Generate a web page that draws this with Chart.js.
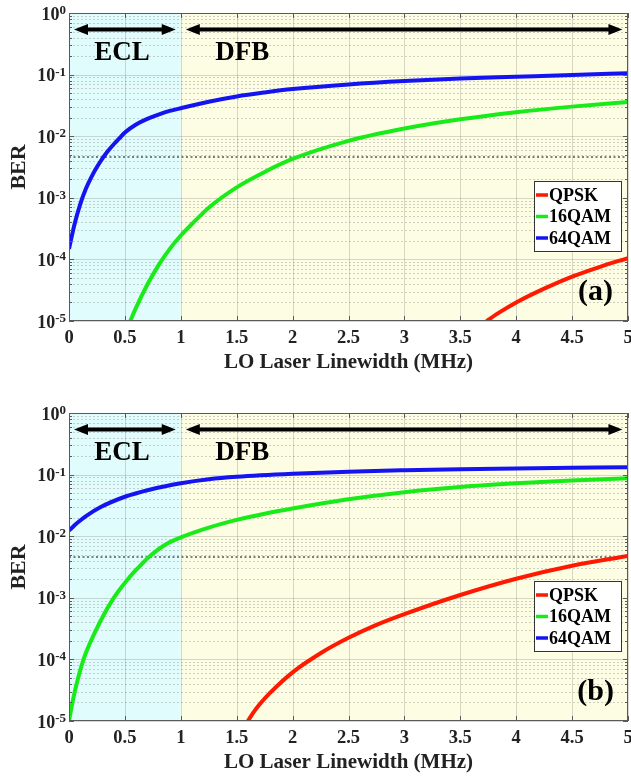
<!DOCTYPE html>
<html>
<head>
<meta charset="utf-8">
<script src="https://cdn.jsdelivr.net/npm/chart.js@4.4.0/dist/chart.umd.min.js"></script>
<style>
body{margin:0;background:#fff;width:631px;height:779px;overflow:hidden;position:relative}
canvas{position:absolute;left:0}
#chartA{top:0}
#chartB{top:400px}
</style>
</head>
<body>
<canvas id="chartA" width="631" height="400"></canvas>
<canvas id="chartB" width="631" height="379"></canvas>
<script>
// x axis: LO laser linewidth (MHz)
const xTicks = [0, 0.5, 1, 1.5, 2, 2.5, 3, 3.5, 4, 4.5, 5];
const fecLimit = 4.6e-3;
const seriesNames = ['QPSK', '16QAM', '64QAM'];

// panel (a)
const qpskX_a = [3.735, 3.85, 4.0, 4.25, 4.5, 4.75, 5.0];
const qpskY_a = [1e-5, 1.38e-5, 2.0e-5, 3.35e-5, 5.25e-5, 7.59e-5, 1.05e-4];
const qam16X_a = [0.548, 0.6, 0.7, 0.8, 0.9, 1.0, 1.1, 1.25, 1.5, 1.75, 2.0, 2.5, 3.0, 3.5, 4.0, 4.5, 5.0];
const qam16Y_a = [1e-5, 1.65e-5, 3.87e-5, 8.0e-5, 1.47e-4, 2.44e-4, 3.76e-4, 6.92e-4, 1.48e-3, 2.63e-3, 4.27e-3, 8.41e-3, 1.33e-2, 1.88e-2, 2.45e-2, 3.02e-2, 3.59e-2];
const qam64X_a = [0, 0.05, 0.1, 0.15, 0.2, 0.25, 0.3, 0.35, 0.4, 0.45, 0.5, 0.6, 0.7, 0.8, 0.9, 1.0, 1.25, 1.5, 1.75, 2.0, 2.5, 3.0, 3.5, 4.0, 4.5, 5.0];
const qam64Y_a = [1.48e-4, 3.76e-4, 7.85e-4, 1.39e-3, 2.17e-3, 3.16e-3, 4.37e-3, 5.78e-3, 7.41e-3, 9.23e-3, 1.15e-2, 1.55e-2, 1.91e-2, 2.24e-2, 2.57e-2, 2.85e-2, 3.63e-2, 4.42e-2, 5.13e-2, 5.82e-2, 6.92e-2, 7.85e-2, 8.61e-2, 9.23e-2, 9.89e-2, 1.05e-1];

// panel (b)
const qpskX_b = [1.6, 1.65, 1.7, 1.8, 2.0, 2.25, 2.5, 2.75, 3.0, 3.5, 4.0, 4.5, 5.0];
const qpskY_b = [1e-5, 1.38e-5, 1.82e-5, 2.88e-5, 6.17e-5, 1.26e-4, 2.24e-4, 3.63e-4, 5.43e-4, 1.11e-3, 2.04e-3, 3.31e-3, 4.79e-3];
const qam16X_b = [0, 0.02, 0.056, 0.13, 0.235, 0.39, 0.53, 0.62, 0.72, 0.85, 1.0, 1.25, 1.5, 1.75, 2.0, 2.5, 3.0, 3.5, 4.0, 4.5, 5.0];
const qam16Y_b = [1e-5, 1.58e-5, 3.24e-5, 1e-4, 2.82e-4, 9.33e-4, 2.04e-3, 3.09e-3, 4.68e-3, 7.08e-3, 9.55e-3, 1.38e-2, 1.84e-2, 2.32e-2, 2.82e-2, 3.98e-2, 5.19e-2, 6.31e-2, 7.24e-2, 8.04e-2, 8.71e-2];
const qam64X_b = [0, 0.05, 0.1, 0.155, 0.28, 0.5, 0.72, 1.0, 1.25, 1.5, 2.0, 2.5, 3.0, 3.5, 4.0, 4.5, 5.0];
const qam64Y_b = [1.23e-2, 1.51e-2, 1.80e-2, 2.14e-2, 2.95e-2, 4.37e-2, 5.69e-2, 7.24e-2, 8.41e-2, 9.23e-2, 0.1035, 0.1117, 0.1175, 0.1222, 0.1259, 0.1288, 0.1318];

const colors = ['rgb(255,25,0)', 'rgb(25,235,25)', 'rgb(20,20,240)'];
const serif = "'Liberation Serif', 'Times New Roman', serif";

function pts(xs, ys){
    return xs.map((v, i) => ({x: v, y: ys[i]}));
}

function arrow(ctx, x1, x2, y){
    const hl = 14, hw = 5.5;
    ctx.beginPath();
    ctx.moveTo(x1 + hl - 2, y);
    ctx.lineTo(x2 - hl + 2, y);
    ctx.stroke();
    ctx.beginPath();
    ctx.moveTo(x1, y); ctx.lineTo(x1 + hl, y - hw); ctx.lineTo(x1 + hl, y + hw);
    ctx.closePath(); ctx.fill();
    ctx.beginPath();
    ctx.moveTo(x2, y); ctx.lineTo(x2 - hl, y - hw); ctx.lineTo(x2 - hl, y + hw);
    ctx.closePath(); ctx.fill();
}

const decor = {
    id: 'decor',
    beforeDatasetsDraw(chart){
        const {ctx, chartArea: a, scales: {x, y}} = chart;
        ctx.save();
        const x1 = x.getPixelForValue(1);
        ctx.fillStyle = '#e0fcfd';
        ctx.fillRect(a.left, a.top, x1 - a.left, a.height);
        ctx.fillStyle = '#fdfde4';
        ctx.fillRect(x1, a.top, a.right - x1, a.height);

        // minor horizontal grid (dotted)
        ctx.lineWidth = 1;
        ctx.setLineDash([2, 2]);
        ctx.strokeStyle = 'rgba(150,150,150,0.45)';
        for (let e = -5; e < 0; e++){
            for (let m = 2; m <= 9; m++){
                const py = Math.round(y.getPixelForValue(m * Math.pow(10, e))) + 0.5;
                ctx.beginPath(); ctx.moveTo(a.left, py); ctx.lineTo(a.right, py); ctx.stroke();
            }
        }
        // major grid
        ctx.setLineDash([]);
        ctx.strokeStyle = 'rgba(140,140,130,0.35)';
        for (let e = -5; e <= 0; e++){
            const py = Math.round(y.getPixelForValue(Math.pow(10, e))) + 0.5;
            ctx.beginPath(); ctx.moveTo(a.left, py); ctx.lineTo(a.right, py); ctx.stroke();
        }
        xTicks.forEach(v => {
            const px = Math.round(x.getPixelForValue(v)) + 0.5;
            ctx.beginPath(); ctx.moveTo(px, a.top); ctx.lineTo(px, a.bottom); ctx.stroke();
        });
        ctx.restore();
    },
    afterDatasetsDraw(chart, args, opts){
        const {ctx, chartArea: a, scales: {x, y}} = chart;
        ctx.save();
        // axis box and inner ticks
        ctx.strokeStyle = '#5a5a5a';
        ctx.lineWidth = 1;
        ctx.strokeRect(a.left + 0.5, a.top + 0.5, a.width - 1, a.height - 1);
        ctx.beginPath();
        xTicks.forEach(v => {
            const px = Math.round(x.getPixelForValue(v)) + 0.5;
            ctx.moveTo(px, a.bottom); ctx.lineTo(px, a.bottom - 5);
            ctx.moveTo(px, a.top); ctx.lineTo(px, a.top + 5);
        });
        for (let e = -5; e <= 0; e++){
            for (let m = 1; m <= 9; m++){
                const v = m * Math.pow(10, e);
                if (v > 1) break;
                const len = m === 1 ? 5 : 3;
                const py = Math.round(y.getPixelForValue(v)) + 0.5;
                ctx.moveTo(a.left, py); ctx.lineTo(a.left + len, py);
                ctx.moveTo(a.right, py); ctx.lineTo(a.right - len, py);
            }
        }
        ctx.stroke();

        // y tick labels 10^n
        ctx.fillStyle = '#222';
        ctx.textAlign = 'right';
        y.ticks.forEach(t => {
            const l = Math.log10(t.value);
            const e = Math.round(l);
            if (Math.abs(l - e) > 1e-6) return;
            const ty = y.getPixelForValue(t.value);
            const rx = a.left - 3;
            ctx.font = 'bold 13px ' + serif;
            ctx.textBaseline = 'alphabetic';
            const ex = String(e);
            const ew = ctx.measureText(ex).width;
            ctx.fillText(ex, rx, ty + 1);
            ctx.font = 'bold 18px ' + serif;
            ctx.textBaseline = 'middle';
            ctx.fillText('10', rx - ew, ty + 2);
        });

        // ECL / DFB arrows
        ctx.strokeStyle = '#000';
        ctx.fillStyle = '#000';
        ctx.lineWidth = 4;
        const ay = y.getPixelForValue(0.54);
        arrow(ctx, x.getPixelForValue(0.045), x.getPixelForValue(0.955), ay);
        arrow(ctx, x.getPixelForValue(1.045), x.getPixelForValue(4.95), ay);
        ctx.font = 'bold 27px ' + serif;
        ctx.textAlign = 'center';
        ctx.textBaseline = 'middle';
        ctx.fillText('ECL', x.getPixelForValue(0.474), y.getPixelForValue(0.22));
        ctx.fillText('DFB', x.getPixelForValue(1.55), y.getPixelForValue(0.22));
        ctx.font = 'bold 30px ' + serif;
        ctx.fillText(opts.tag, x.getPixelForValue(4.71), y.getPixelForValue(2.9e-5));

        // legend
        const lx = a.right - 94, ly = a.top + 168, lw = 87, lh = 70;
        ctx.fillStyle = '#fff';
        ctx.fillRect(lx, ly, lw, lh);
        ctx.strokeStyle = '#333';
        ctx.lineWidth = 1;
        ctx.strokeRect(lx + 0.5, ly + 0.5, lw, lh);
        ctx.font = 'bold 18px ' + serif;
        ctx.textAlign = 'left';
        chart.data.datasets.filter(d => !d.isLimit).forEach((d, i) => {
            const ry = ly + 14 + i * 21.5;
            ctx.strokeStyle = d.borderColor;
            ctx.lineWidth = 3.5;
            ctx.beginPath(); ctx.moveTo(lx + 2, ry); ctx.lineTo(lx + 14, ry); ctx.stroke();
            ctx.fillStyle = '#000';
            ctx.fillText(d.label, lx + 15, ry + 1);
        });
        ctx.restore();
    }
};

function CreateGraph(canva, qpsk, qam16, qam64, tag, axisH, titlePad){
    const ctx = document.getElementById(canva);
    const curves = [qpsk, qam16, qam64].map((s, i) => ({
        label: seriesNames[i],
        data: s,
        borderColor: colors[i],
        borderWidth: 4,
        pointRadius: 0,
        fill: false,
        cubicInterpolationMode: 'monotone'
    }));
    curves.push({
        label: 'FEC limit',
        isLimit: true,
        data: [{x: xTicks[0], y: fecLimit}, {x: xTicks[xTicks.length - 1], y: fecLimit}],
        borderColor: '#555',
        borderWidth: 1.6,
        borderDash: [2, 2.5],
        pointRadius: 0
    });

    return new Chart(ctx, {
        type: 'line',
        data: {datasets: curves},
        plugins: [decor],
        options: {
            responsive: false,
            animation: false,
            layout: {padding: {top: 13, right: 3, left: 0, bottom: 0}},
            plugins: {
                legend: {display: false},
                tooltip: {enabled: false},
                decor: {tag: tag}
            },
            scales: {
                x: {
                    type: 'linear',
                    min: 0, max: 5,
                    afterBuildTicks: s => { s.ticks = xTicks.map(v => ({value: v})); },
                    afterFit: s => { s.height = axisH; s.paddingLeft = 0; s.paddingRight = 0; },
                    grid: {display: false, drawTicks: false},
                    border: {display: false},
                    ticks: {
                        color: '#222',
                        padding: 6,
                        maxRotation: 0,
                        font: {family: serif, weight: 'bold', size: 18.5},
                        callback: v => String(v)
                    },
                    title: {
                        display: true,
                        text: 'LO Laser Linewidth (MHz)',
                        color: '#222',
                        font: {family: serif, weight: 'bold', size: 21},
                        padding: {top: 0, bottom: titlePad}
                    }
                },
                y: {
                    type: 'logarithmic',
                    min: 1e-5, max: 1,
                    afterFit: s => { s.width = 69; },
                    grid: {display: false, drawTicks: false},
                    border: {display: false},
                    ticks: {
                        autoSkip: false,
                        callback: () => ''
                    },
                    title: {
                        display: true,
                        text: 'BER',
                        color: '#222',
                        font: {family: serif, weight: 'bold', size: 22},
                        padding: {top: 6, bottom: 0}
                    }
                }
            }
        }
    });
}

CreateGraph('chartA', pts(qpskX_a, qpskY_a), pts(qam16X_a, qam16Y_a), pts(qam64X_a, qam64Y_a), '(a)', 79, 25);
CreateGraph('chartB', pts(qpskX_b, qpskY_b), pts(qam16X_b, qam16Y_b), pts(qam64X_b, qam64Y_b), '(b)', 58, 4);
</script>
</body>
</html>
